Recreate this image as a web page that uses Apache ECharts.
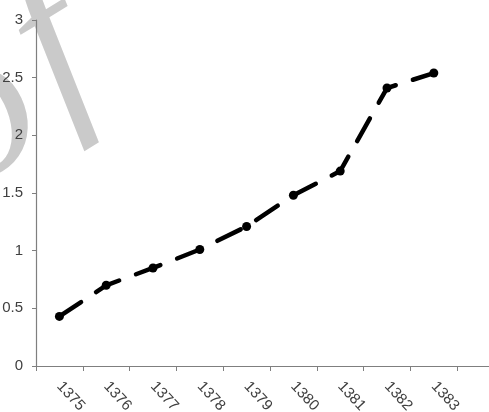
<!DOCTYPE html>
<html>
<head>
<meta charset="utf-8">
<script src="https://cdn.jsdelivr.net/npm/echarts@6/dist/echarts.min.js"></script>
<style>html,body{margin:0;padding:0;background:#fff;}#c{width:489px;height:412px;}</style>
</head>
<body>
<div id="c"></div>
<script>
var categories = ['1375','1376','1377','1378','1379','1380','1381','1382','1383',''];
var values = [0.43, 0.70, 0.85, 1.01, 1.21, 1.48, 1.69, 2.41, 2.54, null];
var yTicks = [0, 0.5, 1, 1.5, 2, 2.5, 3];

var chart = echarts.init(document.getElementById('c'));
chart.setOption({
  animation: false,
  backgroundColor: '#fff',
  graphic: [
    { type: 'text', x: 55, y: 52, z: 0, silent: true, rotation: 0.55,
      style: { text: 'f', fontSize: 210, fontStyle: 'italic', fontFamily: 'Liberation Serif',
               fill: '#cacaca', textAlign: 'center', textVerticalAlign: 'middle' } },
    { type: 'text', x: -20, y: 118, z: 0, silent: true, rotation: 0.55,
      style: { text: 'o', fontSize: 210, fontStyle: 'italic', fontFamily: 'Liberation Serif',
               fill: '#cacaca', textAlign: 'center', textVerticalAlign: 'middle' } }
  ],
  grid: { left: 36, top: 20, bottom: 46, right: -15, containLabel: false, outerBoundsMode: 'none' },
  xAxis: {
    type: 'category', data: categories, boundaryGap: true,
    axisLine: { lineStyle: { color: '#7f7f7f', width: 1.2 } },
    axisTick: { show: true, length: 5, lineStyle: { color: '#7f7f7f' } },
    axisLabel: { rotate: -47, color: '#404040', fontSize: 15, fontFamily: 'Liberation Sans', margin: 18 },
    splitLine: { show: false }
  },
  yAxis: {
    type: 'value', min: yTicks[0], max: yTicks[yTicks.length-1], interval: 0.5,
    axisLine: { show: true, lineStyle: { color: '#7f7f7f', width: 1.2 } },
    axisTick: { show: true, length: 4, lineStyle: { color: '#7f7f7f' } },
    axisLabel: { color: '#404040', fontSize: 15, fontFamily: 'Liberation Sans', margin: 13 },
    splitLine: { show: false }
  },
  series: [{
    type: 'line', data: values, z: 5,
    symbol: 'circle', symbolSize: 9,
    itemStyle: { color: '#000' },
    lineStyle: { color: '#000', width: 4.5, type: [26, 18], cap: 'round' }
  }]
});
</script>
</body>
</html>
